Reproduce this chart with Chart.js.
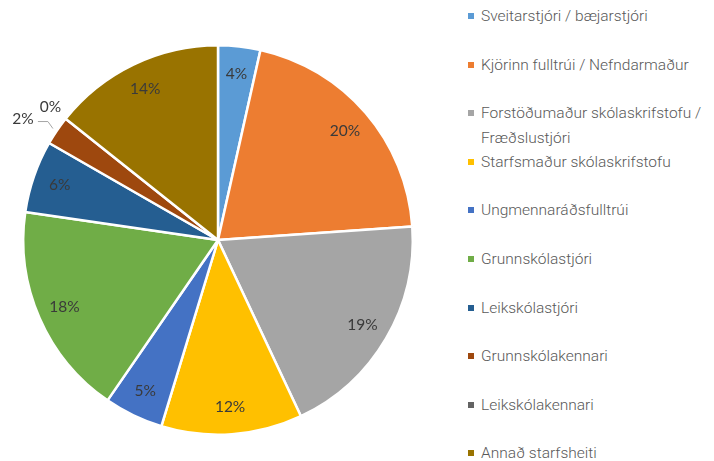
<!DOCTYPE html>
<html>
<head>
<meta charset="utf-8">
<script src="https://cdn.jsdelivr.net/npm/chart.js@4/dist/chart.umd.min.js"></script>
<style>
  html, body { margin: 0; padding: 0; background: #fff; }
  #wrap { position: relative; width: 714px; height: 461px; }
  #pie-box { position: absolute; left: 0; top: 0; width: 436px; height: 461px; }
  #legend { position: absolute; left: 466px; top: 0; margin: 0; padding: 0; list-style: none;
    font-family: Roboto, sans-serif; font-weight: 300; font-size: 15.5px; color: #595959; }
  #legend li { position: absolute; left: 0; white-space: nowrap; line-height: 25px; }
  #legend .box { position: absolute; left: 2px; top: 9px; width: 6px; height: 6px; }
  #legend .txt { display: block; margin-left: 15px; }
</style>
</head>
<body>
<div id="wrap">
  <div id="pie-box"><canvas id="pie"></canvas></div>
  <ul id="legend"></ul>
</div>
<script>
const categories = [
  'Sveitarstjóri / bæjarstjóri',
  'Kjörinn fulltrúi / Nefndarmaður',
  ['Forstöðumaður skólaskrifstofu /', 'Fræðslustjóri'],
  'Starfsmaður skólaskrifstofu',
  'Ungmennaráðsfulltrúi',
  'Grunnskólastjóri',
  'Leikskólastjóri',
  'Grunnskólakennari',
  'Leikskólakennari',
  'Annað starfsheiti'
]
// shares in percent (labels show them rounded)
const shares = [3.5, 20.4, 19.1, 11.7, 4.9, 17.7, 6.0, 2.4, 0, 14.3]
const colors = ['#5b9bd5', '#ed7d31', '#a5a5a5', '#ffc000', '#4472c4',
  '#70ad47', '#255e91', '#9e480e', '#636363', '#997300']

// legend
let legend = document.querySelector('#legend')
categories.forEach((cat, i) => {
  let li = document.createElement('li')
  li.style.top = (4 + i * 48.6) + 'px'
  let lines = Array.isArray(cat) ? cat : [cat]
  li.innerHTML = `<span class="box" style="background:${colors[i]}"></span>` +
    `<span class="txt">${lines.join('<br>')}</span>`
  legend.appendChild(li)
})

// percentage labels drawn on top of the arcs
const pieLabels = {
  id: 'pieLabels',
  afterDatasetsDraw(chart) {
    let ctx = chart.ctx
    let meta = chart.getDatasetMeta(0)
    let values = chart.data.datasets[0].data
    let total = values.reduce((a, b) => a + b, 0)
    ctx.save()
    ctx.font = '15.5px Lato, "Open Sans", sans-serif'
    ctx.fillStyle = '#3a3a3a'
    ctx.textAlign = 'center'
    ctx.textBaseline = 'middle'
    meta.data.forEach((arc, i) => {
      let { x, y, startAngle, endAngle, outerRadius } = arc.getProps(
        ['x', 'y', 'startAngle', 'endAngle', 'outerRadius'], true)
      let pct = values[i] / total * 100
      let text = Math.round(pct) + '%'
      let mid = (startAngle + endAngle) / 2
      if (pct >= 3) {
        let r = outerRadius * 0.86
        ctx.fillText(text, x + Math.cos(mid) * r, y + Math.sin(mid) * r)
        return
      }
      // small slices go outside; a crowded one gets pushed out with a leader line
      let crowded = i + 1 < values.length && values[i + 1] / total * 100 < 3
      let r = outerRadius * (crowded ? 1.18 : 1.1)
      let a = mid - (crowded ? 0.04 : 0)
      let lx = x + Math.cos(a) * r
      let ly = y + Math.sin(a) * r
      ctx.fillText(text, lx, ly)
      if (crowded) {
        let ex = x + Math.cos(mid) * outerRadius
        let ey = y + Math.sin(mid) * outerRadius
        ctx.strokeStyle = '#a6a6a6'
        ctx.lineWidth = 1
        ctx.beginPath()
        ctx.moveTo(lx + 15, ly + 3)
        ctx.lineTo(lx + 25, ly + 3)
        ctx.lineTo(ex - 4, ey - 2)
        ctx.stroke()
      }
    })
    ctx.restore()
  }
}

new Chart(document.querySelector('#pie'), {
  type: 'pie',
  data: {
    labels: categories.map(c => Array.isArray(c) ? c.join(' ') : c),
    datasets: [{
      data: shares,
      backgroundColor: colors,
      borderColor: '#ffffff',
      borderWidth: 2.5
    }]
  },
  options: {
    responsive: true,
    maintainAspectRatio: false,
    animation: false,
    layout: { padding: { top: 43, bottom: 24, left: 22, right: 22 } },
    plugins: {
      legend: { display: false },
      tooltip: { enabled: false }
    }
  },
  plugins: [pieLabels]
})
</script>
</body>
</html>
